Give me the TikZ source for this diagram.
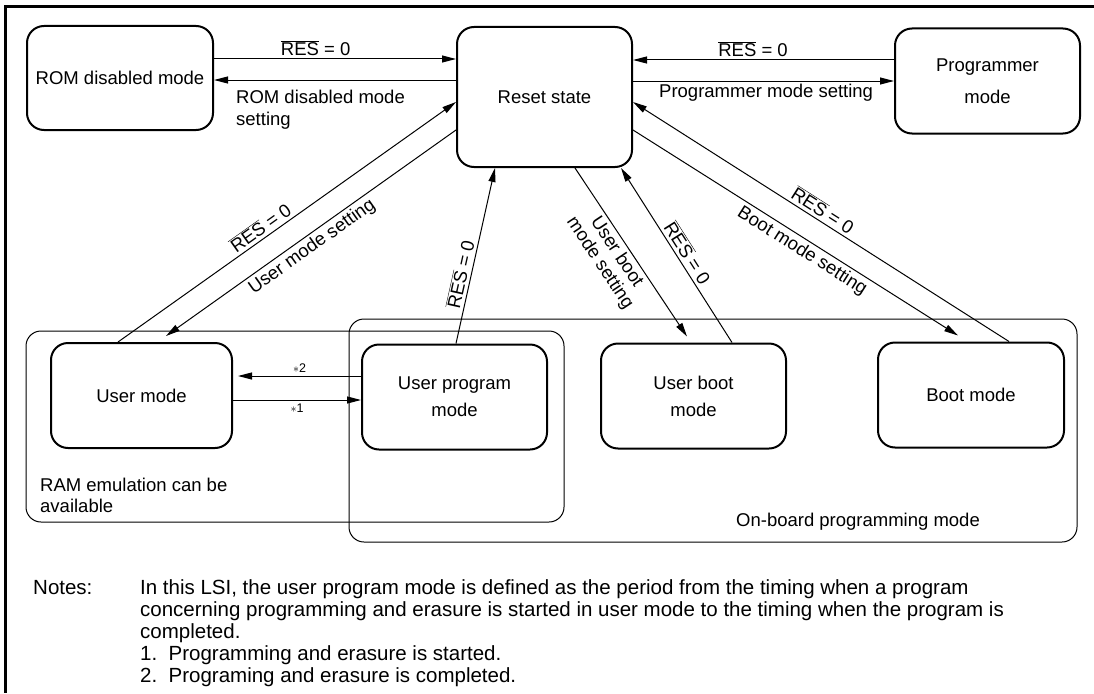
\documentclass[tikz,border=0pt]{standalone}
\usepackage{fontspec}
\setmainfont{Liberation Sans}
\usetikzlibrary{arrows.meta,calc}
\newcommand\resbar{$\overline{\mbox{RES}}$ = 0}
\begin{document}
\begin{tikzpicture}[x=1pt,y=-1pt,
  every node/.style={font=\fontsize{18.5}{22}\selectfont},
  modebox/.style={draw, line width=2pt, rounded corners=17pt, align=center, inner sep=0pt,
                  minimum width=185pt, minimum height=105pt},
  region/.style={draw, line width=1pt, rounded corners=15pt, inner sep=0pt},
  conn/.style={line width=1pt, -{Triangle[length=14pt,width=7pt]}},
  lbl/.style={inner sep=3pt},
  star/.style={font=\fontsize{12.5}{14}\selectfont, inner sep=3pt},
  noteline/.style={anchor=base west, inner sep=0pt, font=\fontsize{20.5}{22}\selectfont},
]
\useasboundingbox (0,0) rectangle (1094,693);
\draw[line width=3pt] (1094,7) -- (5,7) -- (5,693);

% regions
\node[region, minimum width=538pt, minimum height=191pt] (ram) at (295,426.5) {};
\node[region, minimum width=728pt, minimum height=223pt] (onboard) at (713,430.5) {};

% mode boxes
\node[modebox, minimum width=186pt, minimum height=104pt] (rom) at (120,78) {ROM disabled mode};
\node[modebox, minimum width=175pt, minimum height=140pt] (reset) at (544.5,97) {Reset state};
\node[modebox, minimum width=185pt, minimum height=105pt, font=\fontsize{18.5}{32}\selectfont] (prog) at (987.5,81) {Programmer\\mode};
\node[modebox, minimum width=181pt] (user) at (141.5,395.5) {User mode};
\node[modebox, font=\fontsize{18.5}{27}\selectfont] (uprog) at (454.5,397) {User program\\mode};
\node[modebox, font=\fontsize{18.5}{27}\selectfont] (uboot) at (693.5,396) {User boot\\mode};
\node[modebox, minimum width=186pt] (boot) at (971,395) {Boot mode};

% top horizontal connectors
\draw[conn] (rom.east |- 0,59) -- node[lbl, above, pos=0.42]{\resbar} (reset.west |- 0,59);
\draw[conn] (reset.west |- 0,80) -- (rom.east |- 0,80);
\node[anchor=north west, align=left, inner sep=0pt, font=\fontsize{18.5}{22}\selectfont] (romlbl) at (236,90) {ROM disabled mode\\setting};
\draw[conn] (prog.west |- 0,60) -- node[lbl, above, pos=0.54]{\resbar} (reset.east |- 0,60);
\draw[conn] (reset.east |- 0,81) -- node[lbl, below, pos=0.51]{Programmer mode setting} (prog.west |- 0,81);

% diagonal connectors
\draw[conn] (118,0 |- user.north) -- node[lbl, sloped, above, pos=0.44]{\resbar} (reset.west |- 0,102);
\draw[conn] (reset.west |- 0,130) -- node[lbl, sloped, below, pos=0.52]{User mode setting} ($(166,0 |- user.north)+(0,-6)$);
\draw[conn] (456,0 |- uprog.north) -- node[lbl, sloped, above, pos=0.38]{\resbar} (495,0 |- reset.south);
\draw[conn] (575,0 |- reset.south) -- node[lbl, sloped, below, pos=0.46, align=center, font=\fontsize{18.5}{20}\selectfont]{User boot\\mode setting} ($(687,0 |- uboot.north)+(0,-6)$);
\draw[conn] (732,0 |- uboot.north) -- node[lbl, sloped, above, pos=0.48]{\resbar} (621,0 |- reset.south);
\draw[conn] (reset.east |- 0,130) -- node[lbl, sloped, below, pos=0.54]{Boot mode setting} ($(958,0 |- boot.north)+(0,-6)$);
\draw[conn] (1009,0 |- boot.north) -- node[lbl, sloped, above, pos=0.51]{\resbar} (reset.east |- 0,102);

% user <-> user program
\draw[conn] (uprog.west |- 0,376) -- node[star, above]{$\ast$2} ($(user.east |- 0,376)+(5,0)$);
\draw[conn] (user.east |- 0,400) -- node[star, below]{$\ast$1} (uprog.west |- 0,400);

% region labels
\node[anchor=north west, align=left, inner sep=0pt, font=\fontsize{18.5}{21}\selectfont] (ramlbl) at (40,478) {RAM emulation can be\\available};
\node[inner sep=0pt] (oblbl) at (858,522) {On-board programming mode};

% notes
\node[noteline] (nhd) at (33,594) {Notes:};
\node[noteline] (n1) at (140,594) {In this LSI, the user program mode is defined as the period from the timing when a program};
\node[noteline] (n2) at (140,616) {concerning programming and erasure is started in user mode to the timing when the program is};
\node[noteline] (n3) at (140,638) {completed.};
\node[noteline] (n4) at (140,660) {1.\ \ Programming and erasure is started.};
\node[noteline] (n5) at (140,682) {2.\ \ Programing and erasure is completed.};
\end{tikzpicture}
\end{document}
